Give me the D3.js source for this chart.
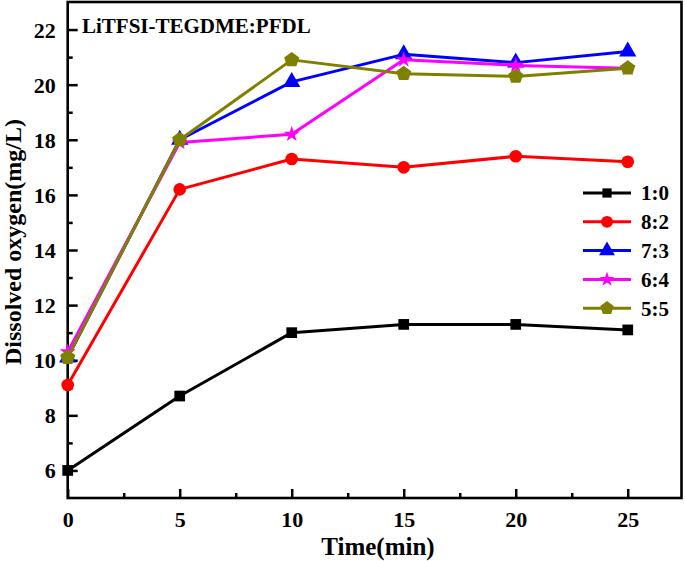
<!DOCTYPE html>
<html>
<head>
<meta charset="utf-8">
<script src="https://cdn.jsdelivr.net/npm/d3@7"></script>
<style>
body{margin:0;background:#fff;}
svg{display:block;font-family:"Liberation Serif","Times New Roman",serif;font-weight:bold;}
</style>
</head>
<body>
<svg id="chart" width="685" height="561"></svg>
<script>
const times = [0, 5, 10, 15, 20, 25];
const seriesNames = ["1:0", "8:2", "7:3", "6:4", "5:5"];
const s10 = [6.0, 8.7, 11.0, 11.3, 11.3, 11.1];
const s82 = [9.1, 16.2, 17.3, 17.0, 17.4, 17.2];
const s73 = [10.1, 18.0, 20.1, 21.1, 20.8, 21.2];
const s64 = [10.3, 17.9, 18.2, 20.9, 20.7, 20.6];
const s55 = [10.1, 18.0, 20.9, 20.4, 20.3, 20.6];
const xTicks = [0, 5, 10, 15, 20, 25];
const xMinor = [2.5, 7.5, 12.5, 17.5, 22.5];
const yTicks = [6, 8, 10, 12, 14, 16, 18, 20, 22];
const yMinor = [7, 9, 11, 13, 15, 17, 19, 21];
const colors = ["#000000", "#ff0000", "#0000ff", "#ff00ff", "#808000"];
const shapes = [d3.symbolSquare, d3.symbolCircle, d3.symbolTriangle, d3.symbolStar, "pentagon"];
const values = [s10, s82, s73, s64, s55];

const svg = d3.select("#chart");
const W = 685, H = 561;
const m = {left: 67.7, right: 3.5, top: 2, bottom: 63};
const x = d3.scaleLinear().domain([0, 27.4]).range([m.left, W - m.right]);
const y = d3.scaleLinear().domain([5, 23]).range([H - m.bottom, m.top]);

const pentagon = {
  draw(ctx, size) {
    const r = Math.sqrt(size / 2.378);
    for (let i = 0; i < 5; i++) {
      const a = -Math.PI / 2 + i * 2 * Math.PI / 5;
      const px = r * Math.cos(a), py = r * Math.sin(a);
      if (i === 0) ctx.moveTo(px, py); else ctx.lineTo(px, py);
    }
    ctx.closePath();
  }
};
const symType = s => s === "pentagon" ? pentagon : s;
const symSizes = [115, 125, 130, 80, 150];
const legSizes = [85, 110, 110, 70, 120];

const fontFam = '"Liberation Serif","Times New Roman",serif';
const gx = svg.append("g").attr("transform", `translate(0,${H - m.bottom})`)
  .call(d3.axisBottom(x).tickValues(xTicks).tickSize(-9).tickPadding(13).tickFormat(d3.format("d")));
const gxm = svg.append("g").attr("transform", `translate(0,${H - m.bottom})`)
  .call(d3.axisBottom(x).tickValues(xMinor).tickSize(-5).tickFormat(""));
const gy = svg.append("g").attr("transform", `translate(${m.left},0)`)
  .call(d3.axisLeft(y).tickValues(yTicks).tickSize(-10).tickPadding(12).tickFormat(d3.format("d")));
const gym = svg.append("g").attr("transform", `translate(${m.left},0)`)
  .call(d3.axisLeft(y).tickValues(yMinor).tickSize(-5).tickFormat(""));
[gx, gxm, gy, gym].forEach(g => {
  g.attr("font-family", fontFam).attr("font-size", 22).attr("font-weight", "bold");
  g.select(".domain").remove();
  g.selectAll(".tick line").attr("stroke", "#000").attr("stroke-width", 2.5);
  g.selectAll(".tick text").attr("fill", "#000");
});
gy.selectAll(".tick text").attr("dy", "0.34em");

svg.append("rect").attr("x", x(0)).attr("y", y(23))
  .attr("width", x(27.4) - x(0)).attr("height", y(5) - y(23))
  .attr("fill", "none").attr("stroke", "#000").attr("stroke-width", 2.6);

const line = d3.line().x((d, i) => x(times[i])).y(d => y(d));
values.forEach((vals, k) => {
  const g = svg.append("g");
  g.append("path").datum(vals).attr("d", line).attr("fill", "none")
    .attr("stroke", colors[k]).attr("stroke-width", 3).attr("stroke-linejoin", "round");
  g.selectAll("path.sym").data(vals).join("path").attr("class", "sym")
    .attr("d", d3.symbol().type(symType(shapes[k])).size(symSizes[k]))
    .attr("transform", (d, i) => `translate(${x(times[i])},${y(d)})`)
    .attr("fill", colors[k]);
});

svg.append("text").attr("x", 82).attr("y", 33).style("font-size", "21px").text("LiTFSI-TEGDME:PFDL");

svg.append("text").attr("x", 378).attr("y", 555).attr("text-anchor", "middle")
  .style("font-size", "25px").text("Time(min)");
svg.append("text").attr("transform", `translate(21,242) rotate(-90)`).attr("text-anchor", "middle")
  .style("font-size", "24px").text("Dissolved oxygen(mg/L)");

const lg = svg.append("g");
seriesNames.forEach((name, k) => {
  const ly = 193 + k * 28.8;
  lg.append("line").attr("x1", 583).attr("x2", 631).attr("y1", ly).attr("y2", ly)
    .attr("stroke", colors[k]).attr("stroke-width", 3);
  lg.append("path").attr("d", d3.symbol().type(symType(shapes[k])).size(legSizes[k]))
    .attr("transform", `translate(607,${ly})`).attr("fill", colors[k]);
  lg.append("text").attr("x", 641).attr("y", ly).attr("dy", "0.35em")
    .style("font-size", "21px").text(name);
});
</script>
</body>
</html>
